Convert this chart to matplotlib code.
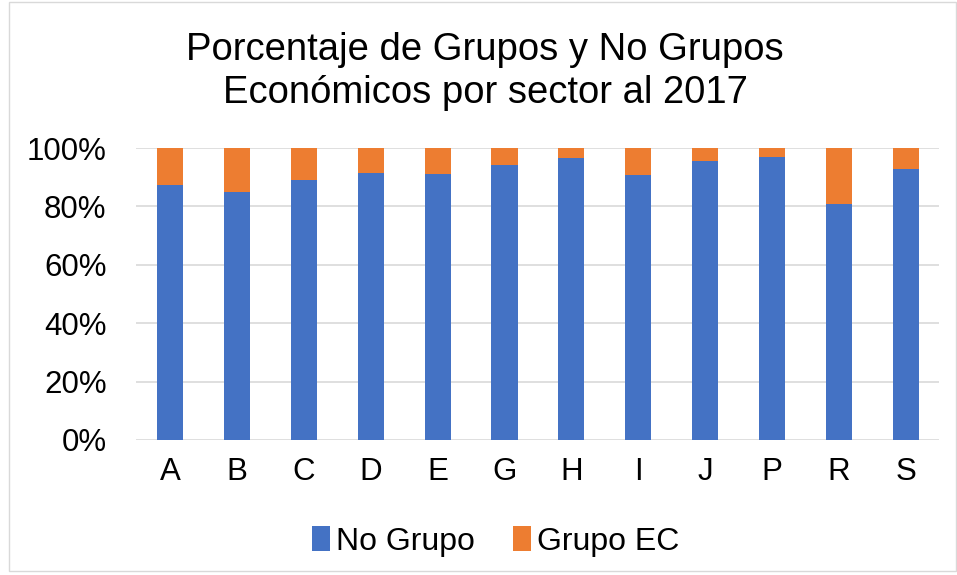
import matplotlib
matplotlib.use('agg')
from matplotlib import pyplot as plt
from matplotlib.patches import Rectangle
from matplotlib.ticker import PercentFormatter

plt.rcParams['font.family'] = ['Liberation Sans', 'DejaVu Sans']

sectores = ['A', 'B', 'C', 'D', 'E', 'G', 'H', 'I', 'J', 'P', 'R', 'S']
no_grupo = [87.4, 84.8, 89.0, 91.6, 91.2, 94.2, 96.7, 90.9, 95.4, 96.9, 80.8, 92.8]
grupo_ec = [100 - v for v in no_grupo]

azul = '#4472C4'
naranja = '#ED7D31'

fig = plt.figure(figsize=(9.57, 5.75), dpi=100)
ax = fig.add_axes([0.1426, 0.2348, 0.8391, 0.5078])

x = range(len(sectores))
ax.bar(x, no_grupo, width=0.39, color=azul, label='No Grupo', zorder=3)
ax.bar(x, grupo_ec, width=0.39, bottom=no_grupo, color=naranja, label='Grupo EC', zorder=3)

ax.set_xlim(-0.5, len(sectores) - 0.5)
ax.set_ylim(0, 100)
ax.set_yticks(range(0, 101, 20))
ax.yaxis.set_major_formatter(PercentFormatter(decimals=0))
ax.set_xticks(list(x))
ax.set_xticklabels(sectores)
ax.tick_params(axis='both', length=0, labelsize=22.5)
ax.tick_params(axis='y', pad=21.5)
ax.tick_params(axis='x', pad=12)
ax.grid(axis='y', color='#d9d9d9', linewidth=1.2, zorder=0)
for s in ax.spines.values():
    s.set_visible(False)

fig.text(0.507, 0.876, 'Porcentaje de Grupos y No Grupos\nEconómicos por sector al 2017',
         ha='center', va='center', fontsize=27.5, linespacing=1.25)

ax.legend(loc='center', bbox_to_anchor=(0.518, 0.058), bbox_transform=fig.transFigure,
          ncol=2, frameon=False, fontsize=23, handlelength=0.55, handleheight=0.8,
          handletextpad=0.2, columnspacing=1.2)

fig.patches.append(Rectangle((0.009, 0.007), 0.99, 0.99, transform=fig.transFigure,
                             fill=False, edgecolor='#d9d9d9', linewidth=1))

fig.savefig('out.png', dpi=100, facecolor='white')
